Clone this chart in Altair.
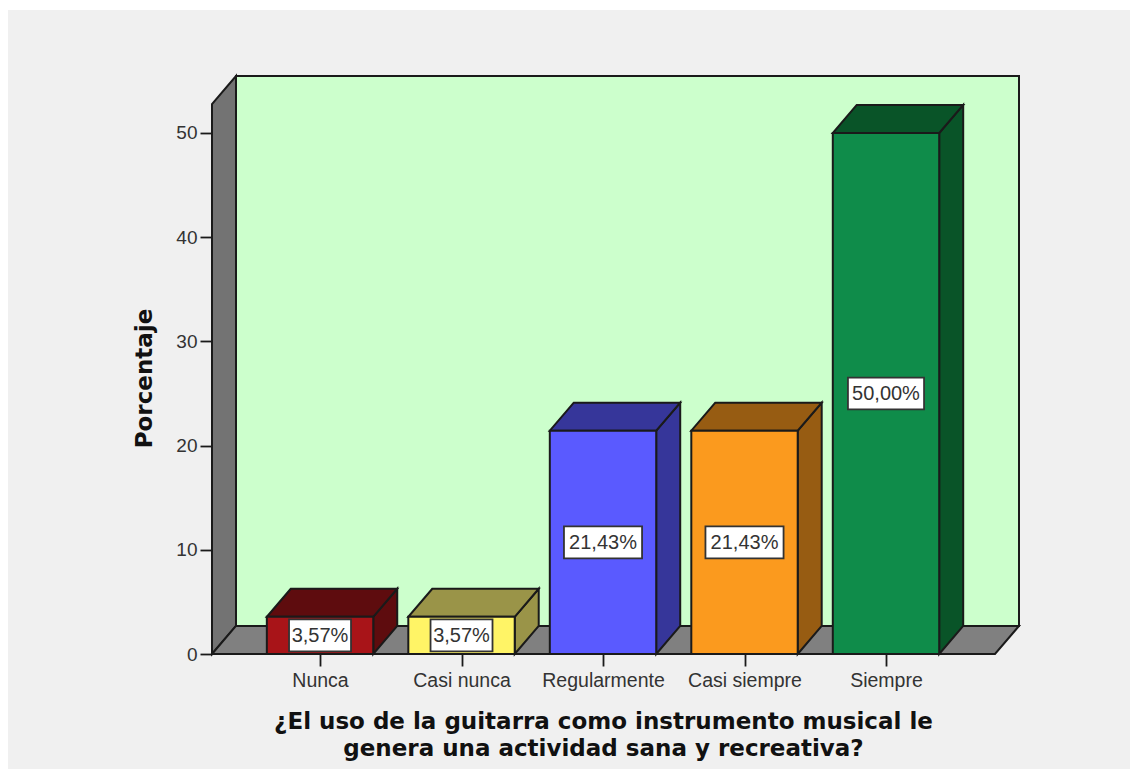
import altair as alt
import pandas as pd

categories = ["Nunca", "Casi nunca", "Regularmente", "Casi siempre", "Siempre"]
values = [3.57, 3.57, 21.43, 21.43, 50.00]
labels = ["3,57%", "3,57%", "21,43%", "21,43%", "50,00%"]
front_colors = ["#a81418", "#fff466", "#5a5aff", "#fb9a1e", "#0f8c4a"]
shade_colors = ["#5e0c0e", "#9a9448", "#36369a", "#975c12", "#095428"]
y_ticks = [0, 10, 20, 30, 40, 50]

X_MIN, X_MAX = -0.7635, 4.940
Y_MAX = 55.47
DX, DY = 0.1696, 2.69
FRONT_RIGHT = X_MAX - DX
HALF = 0.376
BOX = {"3,57%": 0.219, "21,43%": 0.276, "50,00%": 0.269}
BOX_H = 1.53

sx = alt.Scale(domain=[X_MIN, X_MAX], nice=False, zero=False)
sy = alt.Scale(domain=[0, Y_MAX], nice=False, zero=False)
INK = "#1a1a1a"
SW = 2

bars = pd.DataFrame({"cat": categories, "i": range(5), "v": values, "label": labels,
                     "front": front_colors, "shade": shade_colors})
bars["x0"] = bars.i - HALF
bars["x1"] = bars.i + HALF
bars["mid"] = bars.v / 2
bars["bx0"] = [i - BOX[l] for i, l in zip(bars.i, bars.label)]
bars["bx1"] = [i + BOX[l] for i, l in zip(bars.i, bars.label)]
bars["by0"] = bars.mid - BOX_H
bars["by1"] = bars.mid + BOX_H

side_rows, top_rows = [], []
for r in bars.itertuples():
    side_rows += [dict(cat=r.cat, c=r.shade, x=r.x1, lo=0, hi=r.v),
                  dict(cat=r.cat, c=r.shade, x=r.x1 + DX, lo=DY, hi=r.v + DY)]
    top_rows += [dict(cat=r.cat, c=r.shade, y=r.v, a=r.x0, b=r.x1),
                 dict(cat=r.cat, c=r.shade, y=r.v + DY, a=r.x0 + DX, b=r.x1 + DX)]
side = pd.DataFrame(side_rows)
top = pd.DataFrame(top_rows)

wall_left = pd.DataFrame({"x": [X_MIN, X_MIN + DX], "lo": [0, DY], "hi": [Y_MAX - DY, Y_MAX]})
floor = pd.DataFrame({"y": [0, DY], "a": [X_MIN, X_MIN + DX], "b": [FRONT_RIGHT, X_MAX]})
back = pd.DataFrame({"a": [X_MIN + DX], "b": [X_MAX], "lo": [DY], "hi": [Y_MAX]})
ticks_df = pd.DataFrame({"i": range(5), "v": [0] * 5})

label_expr = "[" + ",".join(f"'{c}'" for c in categories) + "][datum.value]"

panel = alt.Chart(pd.DataFrame({"k": [0]})).mark_rect(color="#f0f0f0").encode(
    x=alt.value(-204), x2=alt.value(918), y=alt.value(-66), y2=alt.value(693))

axes = alt.Chart(ticks_df).mark_point(opacity=0).encode(
    x=alt.X("i:Q", scale=sx, axis=alt.Axis(
        values=list(range(5)), labelExpr=label_expr, grid=False, domain=False,
        tickSize=12, tickWidth=1.8, tickColor=INK, labelFontSize=19.5, labelColor="#333333",
        labelFont="Liberation Sans", labelPadding=5, labelOverlap=False, labelFlush=False,
        zindex=1, title=["¿El uso de la guitarra como instrumento musical le",
                         "genera una actividad sana y recreativa?"],
        titleFont="DejaVu Sans", titleFontSize=23, titleFontWeight="bold", titleColor="#111111",
        titleLineHeight=27, titleX=391, titleY=67, titleBaseline="middle", titleAnchor="middle")),
    y=alt.Y("v:Q", scale=sy, axis=alt.Axis(
        values=y_ticks, grid=False, domain=False, tickSize=12, tickWidth=1.8, tickColor=INK,
        labelFontSize=19, labelColor="#333333", labelFont="Liberation Sans", labelPadding=3,
        zindex=1, title="Porcentaje", titleFont="DejaVu Sans", titleFontSize=23,
        titleFontWeight="bold", titleColor="#111111", titleX=-68, titleY=302,
        titleAnchor="middle", titleBaseline="middle", titleAngle=270)),
)

back_l = alt.Chart(back).mark_rect(color="#ccffcc", stroke=INK, strokeWidth=SW).encode(
    x=alt.X("a:Q", scale=sx), x2="b:Q", y=alt.Y("lo:Q", scale=sy), y2="hi:Q")
wall_l = alt.Chart(wall_left).mark_area(color="#737373", stroke=INK, strokeWidth=SW).encode(
    x=alt.X("x:Q", scale=sx), y=alt.Y("lo:Q", scale=sy, stack=None), y2="hi:Q")
floor_l = alt.Chart(floor).mark_area(color="#808080", orient="horizontal", stroke=INK, strokeWidth=SW).encode(
    y=alt.Y("y:Q", scale=sy), x=alt.X("a:Q", scale=sx, stack=None), x2="b:Q")
side_l = alt.Chart(side).mark_area(orient="vertical", stroke=INK, strokeWidth=SW).encode(
    x=alt.X("x:Q", scale=sx), y=alt.Y("lo:Q", scale=sy, stack=None), y2="hi:Q",
    fill=alt.Fill("c:N", scale=None), detail="cat:N")
top_l = alt.Chart(top).mark_area(orient="horizontal", stroke=INK, strokeWidth=SW).encode(
    y=alt.Y("y:Q", scale=sy), x=alt.X("a:Q", scale=sx, stack=None), x2="b:Q",
    fill=alt.Fill("c:N", scale=None), detail="cat:N")
front_l = alt.Chart(bars).mark_rect(stroke=INK, strokeWidth=SW).encode(
    x=alt.X("x0:Q", scale=sx), x2="x1:Q", y=alt.Y("v:Q", scale=sy), y2=alt.datum(0),
    fill=alt.Fill("front:N", scale=None))
box_l = alt.Chart(bars).mark_rect(fill="white", stroke="#333333", strokeWidth=1.8).encode(
    x=alt.X("bx0:Q", scale=sx), x2="bx1:Q", y=alt.Y("by0:Q", scale=sy), y2="by1:Q")
text_l = alt.Chart(bars).mark_text(font="Liberation Sans", fontSize=20, color="#333333", baseline="middle", dy=1).encode(
    x=alt.X("i:Q", scale=sx), y=alt.Y("mid:Q", scale=sy), text="label:N")

chart = alt.layer(panel, back_l, wall_l, floor_l, side_l, top_l, front_l, box_l, text_l, axes).properties(
    width=807, height=578, background="white",
    padding={"left": 204, "top": 68, "right": 111, "bottom": 115},
    autosize=alt.AutoSizeParams(type="none"),
).configure_view(stroke=None)

chart.save("out.html", embed_options={"renderer": "svg", "actions": False})
